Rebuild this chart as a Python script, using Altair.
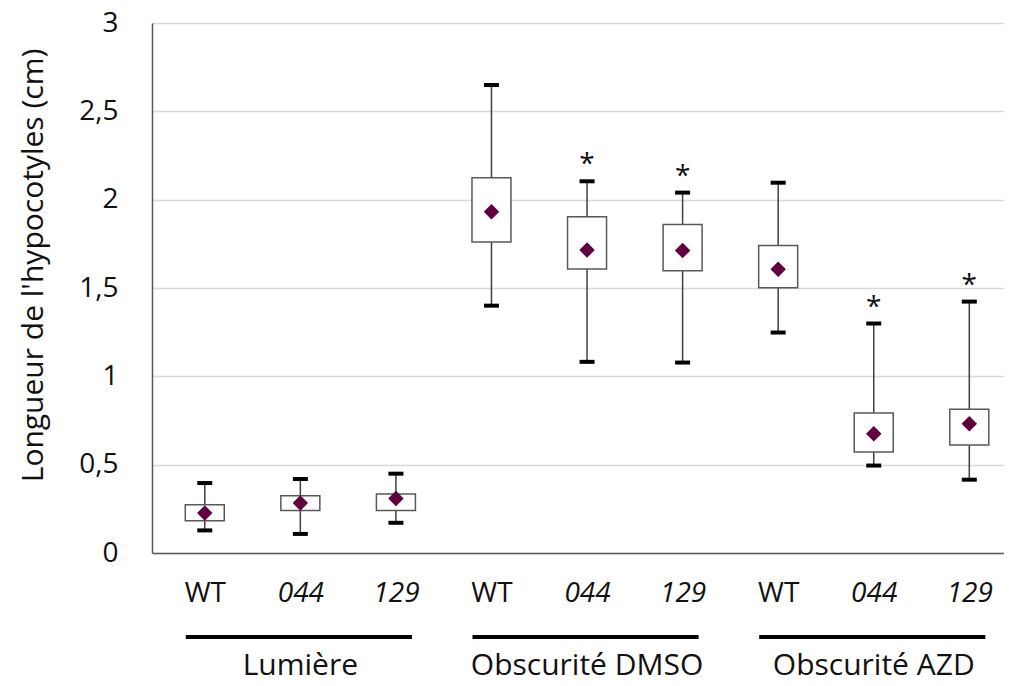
import json
import altair as alt
import pandas as pd

# ---- data ----
groups = ["Lumière", "Lumière", "Lumière",
          "Obscurité DMSO", "Obscurité DMSO", "Obscurité DMSO",
          "Obscurité AZD", "Obscurité AZD", "Obscurité AZD"]
genotypes = ["WT", "044", "129", "WT", "044", "129", "WT", "044", "129"]
italic = [False, True, True, False, True, True, False, True, True]
whisker_low = [0.128, 0.108, 0.171, 1.400, 1.082, 1.078, 1.248, 0.495, 0.415]
q1 = [0.183, 0.241, 0.241, 1.761, 1.608, 1.597, 1.502, 0.571, 0.612]
mean = [0.226, 0.283, 0.309, 1.932, 1.715, 1.712, 1.606, 0.675, 0.731]
q3 = [0.273, 0.324, 0.334, 2.124, 1.904, 1.859, 1.740, 0.792, 0.814]
whisker_high = [0.396, 0.419, 0.449, 2.649, 2.104, 2.040, 2.096, 1.299, 1.423]
significant = [False, False, False, False, True, True, False, True, True]

FONT = "Open Sans"
TXT = "#111111"
GRAY = "#595959"
PURPLE = "#600040"
W, H = 852, 530
STEP = 96.7

df = pd.DataFrame({
    "pos": list(range(len(genotypes))),
    "group": groups, "genotype": genotypes,
    "low": whisker_low, "q1": q1, "mean": mean, "q3": q3, "high": whisker_high,
    "sig": significant,
})

# group extents derived from the category list
gnames, gstart, gend = [], [], []
for i, g in enumerate(groups):
    if not gnames or gnames[-1] != g:
        gnames.append(g); gstart.append(i); gend.append(i)
    else:
        gend[-1] = i
gdf = pd.DataFrame({"group": gnames, "start": gstart, "end": gend,
                    "mid": [(a + b) / 2 for a, b in zip(gstart, gend)]})

xmax = -0.5 + W / STEP
xscale = alt.Scale(domain=[-0.5, xmax], nice=False, zero=False)
yscale = alt.Scale(domain=[0, 3], nice=False, zero=True)

x_enc = alt.X("pos:Q", scale=xscale, axis=alt.Axis(
    values=list(range(len(genotypes))),
    labelExpr=f"{json.dumps(genotypes)}[datum.value]",
    labelFontStyle={"condition": {"test": f"{json.dumps(italic)}[datum.value]", "value": "italic"},
                    "value": "normal"},
    labelFont=FONT, labelFontSize=28, labelColor=TXT, labelPadding=26,
    ticks=False, grid=False, domainColor=GRAY, domainWidth=1.5, title=None))

y_axis = alt.Axis(values=[0, 0.5, 1, 1.5, 2, 2.5, 3],
                  labelExpr="replace(format(datum.value, '.1~f'), '.', ',')",
                  labelFont=FONT, labelFontSize=28, labelColor=TXT, labelPadding=34,
                  ticks=False, tickSize=0, grid=True, gridColor="#d9d9d9", gridWidth=1.5,
                  domainColor=GRAY, domainWidth=1.5,
                  title="Longueur de l'hypocotyles (cm)", titleFont=FONT, titleFontSize=30,
                  titleFontWeight="normal", titleColor=TXT, titleX=-119, titleY=242,
                  titleBaseline="middle", titleAlign="center", titleAngle=270)

base = alt.Chart(df)

whisk = base.mark_rule(color="#404040", strokeWidth=1.5).encode(
    x=x_enc, y=alt.Y("low:Q", scale=yscale, axis=y_axis), y2="high:Q")
box = base.mark_bar(size=39, fill="white", stroke=GRAY, strokeWidth=1.5).encode(
    x=x_enc, y=alt.Y("q1:Q", scale=yscale, axis=y_axis), y2="q3:Q")
cap_hi = base.mark_tick(orient="horizontal", size=15, thickness=4, color="black", opacity=1).encode(
    x=x_enc, y=alt.Y("high:Q", scale=yscale, axis=y_axis))
cap_lo = base.mark_tick(orient="horizontal", size=15, thickness=4, color="black", opacity=1).encode(
    x=x_enc, y=alt.Y("low:Q", scale=yscale, axis=y_axis))
diamond = base.mark_point(shape="diamond", size=240, filled=True, color=PURPLE, opacity=1).encode(
    x=x_enc, y=alt.Y("mean:Q", scale=yscale, axis=y_axis))
stars = base.transform_filter("datum.sig").mark_text(
    text="*", font=FONT, fontSize=28, color=TXT, baseline="alphabetic", dy=-8).encode(
    x=x_enc, y=alt.Y("high:Q", scale=yscale, axis=y_axis))

glines = alt.Chart(gdf).mark_rule(color="black", strokeWidth=4, xOffset=-19, x2Offset=16).encode(
    x=alt.X("start:Q", scale=xscale), x2="end:Q", y=alt.value(H + 84))
glabels = alt.Chart(gdf).mark_text(font=FONT, fontSize=30, color=TXT, baseline="alphabetic").encode(
    x=alt.X("mid:Q", scale=xscale), y=alt.value(H + 122), text="group:N")

chart = alt.layer(whisk, box, cap_hi, cap_lo, diamond, stars, glines, glabels).properties(
    width=W, height=H,
    autosize=alt.AutoSizeParams(type="none"),
    padding={"left": 144, "top": 15, "right": 0, "bottom": 133},
).configure_view(stroke=None).configure(background="white")

chart.save("out.html", embed_options={"renderer": "svg", "actions": False})
